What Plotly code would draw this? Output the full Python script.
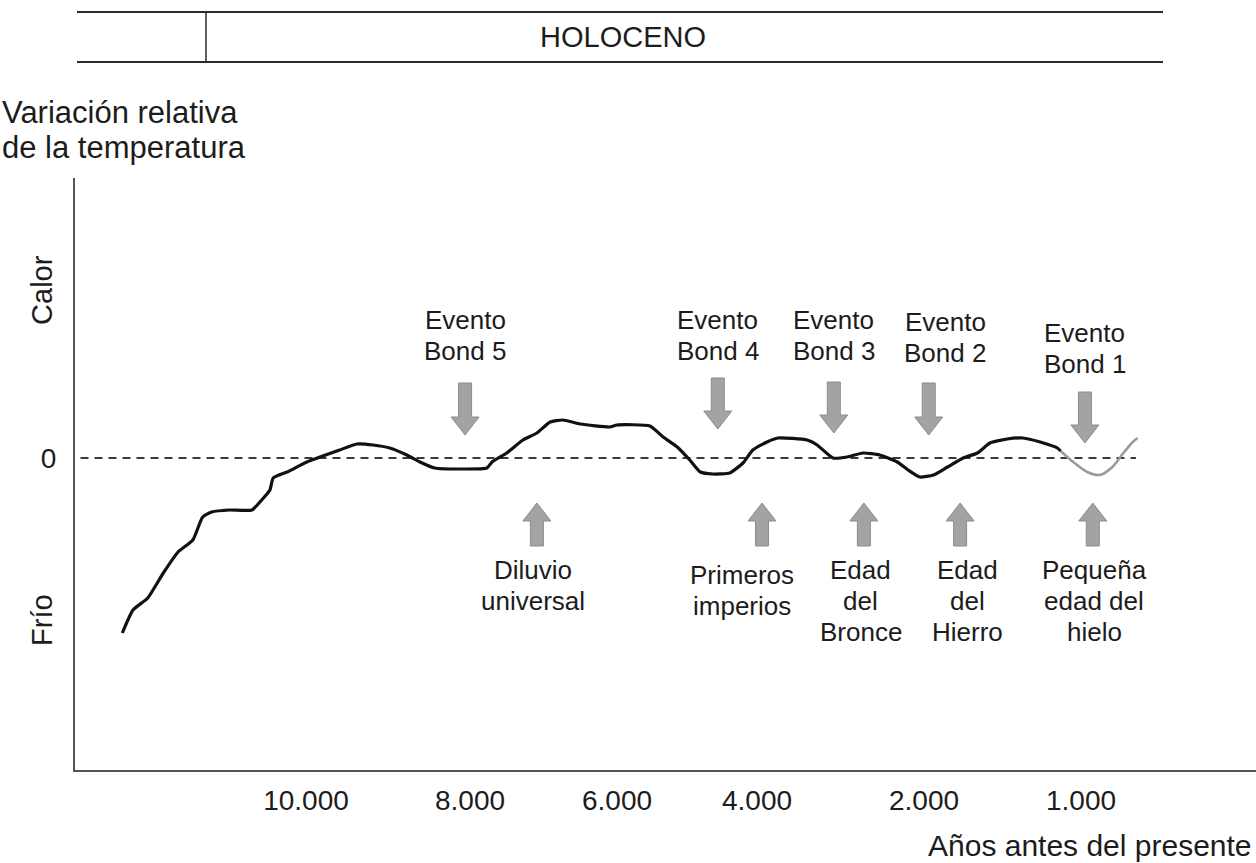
import numpy as np
import plotly.graph_objects as go

# Schematic axis: tick years and where the artist placed them
TICK_YEARS = [10000, 8000, 6000, 4000, 2000, 1000]
TICK_TEXT = ["10.000", "8.000", "6.000", "4.000", "2.000", "1.000"]
TICK_POS = [306, 470, 617, 757, 924, 1081]

# Relative temperature curve (years before present, relative units)
CURVE_YEARS = [12240, 12110, 11930, 11740, 11560, 11380, 11260, 11150, 10930, 10660,
               10540, 10440, 10400, 10230, 9990, 9830, 9590, 9380, 9180, 8980,
               8770, 8610, 8430, 8120, 7770, 7700, 7500, 7280, 7090, 6910,
               6740, 6500, 6100, 6000, 5530, 5340, 5140, 4960, 4810, 4630,
               4390, 4200, 4060, 3880, 3750, 3400, 3280, 3090, 2920, 2730,
               2530, 2320, 2190, 2050, 1940, 1850, 1750, 1660, 1580, 1470,
               1370, 1260, 1150, 1130]
CURVE_TEMP = [-1.75, -1.52, -1.40, -1.15, -0.94, -0.82, -0.59, -0.54, -0.52, -0.52,
              -0.42, -0.32, -0.20, -0.14, -0.04, 0.01, 0.08, 0.14, 0.13, 0.10,
              0.03, -0.04, -0.10, -0.11, -0.10, -0.04, 0.05, 0.18, 0.25, 0.36,
              0.38, 0.34, 0.31, 0.33, 0.32, 0.21, 0.11, -0.02, -0.14, -0.16,
              -0.15, -0.05, 0.08, 0.16, 0.20, 0.18, 0.13, 0.00, 0.01, 0.05,
              0.03, -0.04, -0.12, -0.19, -0.17, -0.09, 0.00, 0.05, 0.15, 0.19,
              0.20, 0.16, 0.10, 0.07]

# Little ice age segment (grey)
LIA_YEARS = [1130, 1050, 960, 880, 800, 730, 670, 640]
LIA_TEMP = [0.07, -0.04, -0.14, -0.17, -0.09, 0.05, 0.16, 0.20]

ZERO_YEARS = [12750, 650]

# Bond events (down arrows)
BOND_NAMES = ["Bond 5", "Bond 4", "Bond 3", "Bond 2", "Bond 1"]
BOND_YEARS = [8060, 4560, 3080, 1970, 975]
BOND_TOP = [0.75, 0.80, 0.76, 0.75, 0.66]
BOND_TIP = [0.23, 0.29, 0.25, 0.23, 0.15]
BOND_LABEL_YEARS = [8060, 4560, 3080, 1866, 975]
BOND_LABEL_Y = [1.38, 1.38, 1.38, 1.36, 1.25]

# Historical periods (up arrows)
PERIOD_LINES = [["Diluvio", "universal"],
                ["Primeros", "imperios"],
                ["Edad", "del", "Bronce"],
                ["Edad", "del", "Hierro"],
                ["Pequeña", "edad del", "hielo"]]
PERIOD_YEARS = [7090, 3940, 2720, 1770, 925]
PERIOD_TIP = [-0.45, -0.45, -0.45, -0.45, -0.45]
PERIOD_BASE = [-0.88, -0.88, -0.88, -0.88, -0.88]
PERIOD_LABEL_YEARS = [7145, 4210, 2755, 1726, 917]
PERIOD_LABEL_Y = [-1.12, -1.17, -1.12, -1.12, -1.12]

FONT = "Liberation Sans, Arial, sans-serif"
TXT = "#1c1c1c"


def year_to_pos(years):
    y = np.asarray(years, dtype=float)
    ty = np.array(TICK_YEARS[::-1], dtype=float)
    tp = np.array(TICK_POS[::-1], dtype=float)
    pos = np.interp(y, ty, tp)
    lo = y < ty[0]
    hi = y > ty[-1]
    pos[lo] = tp[0] + (y[lo] - ty[0]) * (tp[1] - tp[0]) / (ty[1] - ty[0])
    pos[hi] = tp[-1] + (y[hi] - ty[-1]) * (tp[-1] - tp[-2]) / (ty[-1] - ty[-2])
    return pos


def arrow(cx, tail, tip, down=True):
    sw, hw, hh = 6.5, 14, 0.18  # shaft half width, head half width (px), head height
    d = 1 if down else -1
    hb = tip + d * hh
    xs = [cx - sw, cx + sw, cx + sw, cx + hw, cx, cx - hw, cx - sw, cx - sw]
    ys = [tail, tail, hb, hb, tip, hb, hb, tail]
    return xs, ys


fig = go.Figure()

fig.add_trace(go.Scatter(x=year_to_pos(ZERO_YEARS), y=[0, 0], mode="lines",
                         line=dict(color="#3a3a3a", width=2, dash="8px,6px"),
                         hoverinfo="skip"))
fig.add_trace(go.Scatter(x=year_to_pos(LIA_YEARS), y=LIA_TEMP, mode="lines",
                         line=dict(color="#9a9a9a", width=2.5, shape="spline", smoothing=0.8)))
fig.add_trace(go.Scatter(x=year_to_pos(CURVE_YEARS), y=CURVE_TEMP, mode="lines",
                         line=dict(color="#111111", width=3.2, shape="spline", smoothing=0.5)))

bond_pos = year_to_pos(BOND_YEARS)
for cx, t0, t1 in zip(bond_pos, BOND_TOP, BOND_TIP):
    xs, ys = arrow(cx, t0, t1, down=True)
    fig.add_trace(go.Scatter(x=xs, y=ys, mode="lines", fill="toself",
                             fillcolor="#a3a3a3", line=dict(color="#8c8c8c", width=1)))

per_pos = year_to_pos(PERIOD_YEARS)
for cx, t0, t1 in zip(per_pos, PERIOD_BASE, PERIOD_TIP):
    xs, ys = arrow(cx, t0, t1, down=False)
    fig.add_trace(go.Scatter(x=xs, y=ys, mode="lines", fill="toself",
                             fillcolor="#a3a3a3", line=dict(color="#8c8c8c", width=1)))

LSP = 0.31  # line spacing in y units


def add_lines(x, y0, lines, size=26):
    for i, t in enumerate(lines):
        fig.add_annotation(x=x, y=y0 - i * LSP, xref="x", yref="y", text=t,
                           showarrow=False, xanchor="center", yanchor="middle",
                           font=dict(family=FONT, size=size, color=TXT))


for name, x, y0 in zip(BOND_NAMES, year_to_pos(BOND_LABEL_YEARS), BOND_LABEL_Y):
    add_lines(x, y0, ["Evento", name])
for lines, x, y0 in zip(PERIOD_LINES, year_to_pos(PERIOD_LABEL_YEARS), PERIOD_LABEL_Y):
    add_lines(x, y0, lines)

# axis words
fig.add_annotation(x=-0.028, y=1.68, xref="paper", yref="y", text="Calor", textangle=-90,
                   showarrow=False, xanchor="center", yanchor="middle",
                   font=dict(family=FONT, size=29, color=TXT))
fig.add_annotation(x=-0.028, y=-1.62, xref="paper", yref="y", text="Frío", textangle=-90,
                   showarrow=False, xanchor="center", yanchor="middle",
                   font=dict(family=FONT, size=29, color=TXT))
fig.add_annotation(x=-0.0635, y=1.111, xref="paper", yref="paper", text="Variación relativa",
                   showarrow=False, xanchor="left", yanchor="middle",
                   font=dict(family=FONT, size=31, color=TXT))
fig.add_annotation(x=-0.0635, y=1.051, xref="paper", yref="paper", text="de la temperatura",
                   showarrow=False, xanchor="left", yanchor="middle",
                   font=dict(family=FONT, size=31, color=TXT))
fig.add_annotation(x=0.9983, y=-0.127, xref="paper", yref="paper", text="Años antes del presente",
                   showarrow=False, xanchor="right", yanchor="middle",
                   font=dict(family=FONT, size=30, color=TXT))

# Holocene band
band_col = "#2a2a2a"
fig.add_shape(type="line", xref="x", yref="paper", x0=77, x1=1163, y0=1.2804, y1=1.2804,
              line=dict(color=band_col, width=2))
fig.add_shape(type="line", xref="x", yref="paper", x0=77, x1=1163, y0=1.196, y1=1.196,
              line=dict(color=band_col, width=2))
fig.add_shape(type="line", xref="x", yref="paper", x0=206, x1=206, y0=1.196, y1=1.2804,
              line=dict(color=band_col, width=1.5))
fig.add_annotation(x=623, y=1.238, xref="x", yref="paper", text="HOLOCENO",
                   showarrow=False, xanchor="center", yanchor="middle",
                   font=dict(family=FONT, size=29, color=TXT))

fig.update_layout(
    width=1256, height=863,
    margin=dict(l=75, r=0, t=178, b=93),
    paper_bgcolor="white", plot_bgcolor="white",
    showlegend=False,
    xaxis=dict(range=[75, 1256], showgrid=False, zeroline=False,
               showline=True, linecolor="#555555", linewidth=2,
               tickvals=TICK_POS, ticktext=TICK_TEXT, ticks="",
               ticklabelstandoff=4,
               tickfont=dict(family=FONT, size=28, color=TXT)),
    yaxis=dict(range=[-3.12, 2.80], showgrid=False, zeroline=False,
               showline=True, linecolor="#555555", linewidth=2,
               tickvals=[0], ticktext=["0"], ticks="", ticklabelstandoff=11,
               tickfont=dict(family=FONT, size=28, color=TXT)),
)

fig.write_html("out.html", config={"displayModeBar": False},
               post_script="document.body.style.margin='0';")
